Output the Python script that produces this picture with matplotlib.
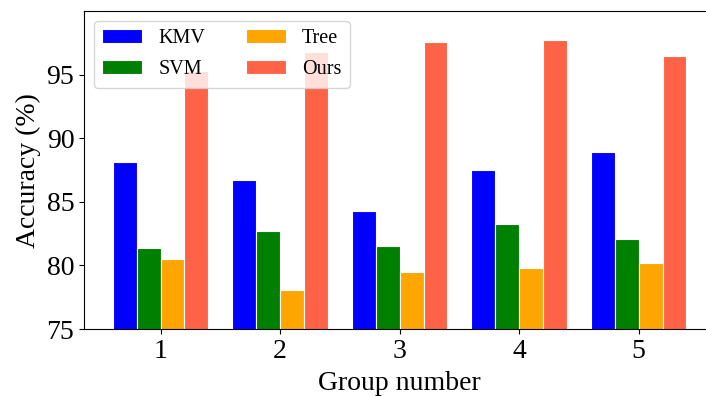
import numpy as np
from matplotlib import pyplot as plt

plt.rcParams['font.family'] = ['Liberation Serif', 'DejaVu Serif']

""" Data read off the chart """
groups = [1, 2, 3, 4, 5]
kmv = [88.1, 86.7, 84.3, 87.5, 88.9]
svm = [81.4, 82.7, 81.5, 83.3, 82.1]
tree = [80.5, 78.1, 79.5, 79.8, 80.2]
ours = [95.3, 96.8, 97.6, 97.7, 96.5]

names = ['KMV', 'SVM', 'Tree', 'Ours']
colors = ['blue', 'green', 'orange', 'tomato']

""" Plot """
fig = plt.figure(figsize=(7.06, 3.96), dpi=100)
ax = fig.add_axes([0.119, 0.169, 0.894, 0.803])

x = np.array(groups)
w = 0.2
for k, (vals, name, c) in enumerate(zip([kmv, svm, tree, ours], names, colors)):
    ax.bar(x + (k - 1.5) * w, vals, w, color=c, edgecolor='white',
           linewidth=0.8, label=name)

ax.set_ylim(75, 100)
ax.set_yticks([75, 80, 85, 90, 95])
ax.set_xticks(groups)
ax.tick_params(labelsize=20)
# label kept fully inside the figure
ax.set_xlabel('Group number', fontsize=20, labelpad=5)
ax.set_ylabel('Accuracy (%)', fontsize=20)
ax.legend(ncol=2, loc='upper left', fontsize=14.5, labelspacing=0.6)

plt.savefig('out.png', dpi=100)
